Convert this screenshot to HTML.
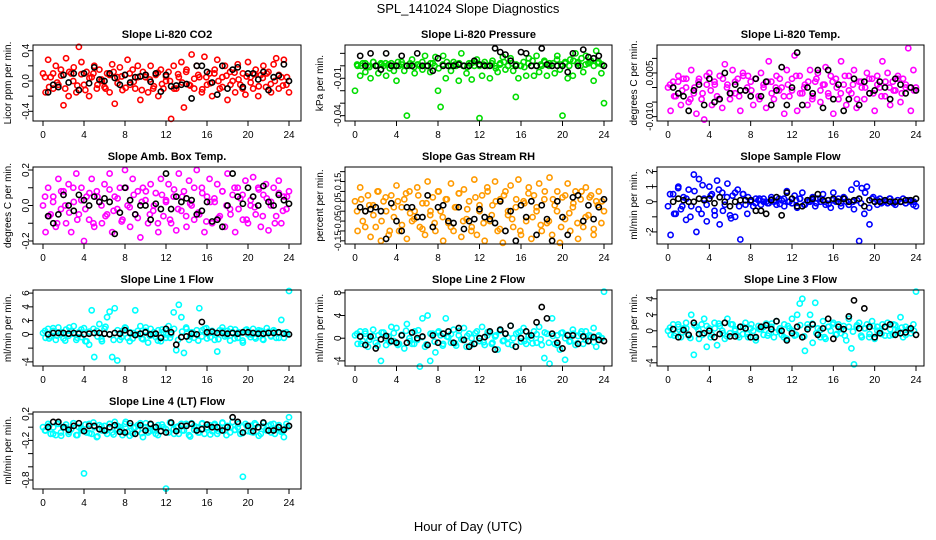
<!DOCTYPE html>
<html><head><meta charset="utf-8"><style>
html,body{margin:0;padding:0;background:#fff;}
svg{display:block;font-family:"Liberation Sans",sans-serif;}
</style></head><body>
<svg id="chart" width="936" height="540" viewBox="0 0 936 540" xmlns="http://www.w3.org/2000/svg">
<rect x="0" y="0" width="936" height="540" fill="#fff"/>
<text x="468" y="13" text-anchor="middle" font-size="13">SPL_141024  Slope Diagnostics</text>
<text x="468" y="531" text-anchor="middle" font-size="13">Hour of Day (UTC)</text>
</svg>
<script>
const xTicks=[0,4,8,12,16,20,24];
const co2=[0.1,-0.15,0.28,0.05,-0.1,0.2,-0.05,0.15,-0.32,0.3,-0.2,0.1,0.18,-0.15,0.45,0.25,-0.05,0.12,-0.2,0.05,0.2,-0.1,0.15,0.0,-0.08,0.1,-0.15,0.22,-0.3,0.05,0.18,-0.12,0.08,0.28,-0.05,0.15,-0.1,0.2,-0.25,0.12,0.05,-0.15,0.2,-0.1,0.08,-0.2,0.15,-0.1,0.0,0.12,-0.5,0.2,-0.1,0.05,0.25,-0.35,0.15,-0.05,0.35,-0.1,0.2,0.05,-0.15,0.32,-0.05,0.1,-0.2,0.15,0.28,-0.1,0.05,0.2,-0.25,0.12,0.0,-0.15,0.22,-0.05,0.1,-0.18,0.25,0.05,-0.1,0.15,-0.2,0.08,0.2,-0.08,0.12,-0.15,0.22,0.3,-0.1,0.05,0.28,-0.05,-0.15];
const co2Core=[0.05,-0.08,0.1,-0.02,0.07,-0.1,0.12,0.0,-0.06,0.09,-0.12,0.04,0.1,-0.05,0.02,-0.1,0.08,0.12,-0.03,0.06,-0.09,0.1,-0.01,0.05,-0.12,0.08,0.02,-0.07,0.11,-0.04,0.06,0.0,-0.1,0.09,-0.02,0.12,-0.06,0.03,0.08,-0.11,0.05,-0.03,0.1,0.0,-0.08,0.07,-0.05,0.11,0.02,-0.1,0.06,-0.02,0.09,-0.07,0.04,0.1,-0.04,0.0,0.08,-0.06,0.05];
const co2Black=[-0.15,-0.05,-0.08,0.08,-0.02,0.1,-0.12,0.1,-0.03,0.18,0.02,0.0,0.1,0.04,-0.05,0.08,-0.02,0.05,0.06,0.08,-0.01,0.1,-0.14,0.08,-0.07,-0.06,-0.05,-0.04,-0.23,0.2,0.2,0.12,-0.02,-0.18,0.2,-0.1,0.15,0.18,-0.08,0.1,0.1,0.02,0.12,-0.12,0.05,0.07,0.22,0.0];
const pres=[-0.02,0.0,-0.008,0.002,-0.005,0.0,-0.01,0.003,0.0,-0.006,0.002,0.0,-0.008,0.001,0.002,-0.004,-0.012,0.0,0.003,-0.004,-0.04,0.0,0.005,-0.006,0.001,0.0,-0.003,0.008,0.0,-0.005,0.002,0.007,-0.02,-0.033,0.008,-0.01,0.0,-0.004,0.003,0.0,-0.012,0.01,0.0,-0.006,0.002,-0.011,0.0,0.005,-0.042,-0.008,0.003,0.0,-0.01,0.004,0.0,-0.005,0.002,0.007,-0.003,0.0,0.006,-0.004,-0.025,-0.01,0.0,0.003,-0.008,0.006,0.0,-0.008,0.008,-0.005,0.0,0.004,-0.008,0.002,0.0,-0.006,0.008,-0.003,-0.04,0.002,-0.01,0.005,-0.008,0.01,0.003,0.0,-0.005,0.008,0.002,0.004,-0.012,0.012,0.003,-0.006,-0.03];
const presCore=[0.001,0.0,0.002,-0.001,0.003,0.0,0.001,0.002,-0.002,0.0,0.003,0.001,0.0,0.002,-0.001,0.001,0.003,0.0,0.002,0.0,-0.002,0.001,0.003,0.0,0.001,0.002,0.0,-0.001,0.002,0.003,0.0,0.001,0.0,0.002,-0.002,0.001,0.003,0.0,0.002,0.001,0.0,-0.001,0.002,0.004,0.0,0.001,0.003,0.0,0.002,0.005,0.001,0.003,0.0,0.004,0.002,0.006,0.001,0.003,0.0,0.002,0.001];
const presBlack=[0.008,0.0,0.01,0.0,-0.003,0.01,0.0,0.0,0.008,0.0,0.0,0.01,0.0,0.0,-0.004,0.006,0.0,0.0,0.0,0.001,0.0,0.0,0.004,0.001,0.0,0.0,0.014,0.011,0.009,0.004,0.0,0.011,0.01,0.0,0.0,0.014,0.001,0.0,0.0,0.0,-0.005,0.01,0.0,0.013,0.007,0.006,0.008,0.0];
const temp=[0.0,-0.008,0.002,-0.003,0.004,-0.006,0.003,0.0,-0.005,0.006,-0.002,-0.009,0.003,-0.004,-0.011,0.001,0.005,-0.006,0.002,-0.003,0.004,-0.007,0.008,0.001,-0.004,0.006,-0.002,0.003,-0.008,0.005,-0.001,0.004,0.002,-0.006,0.003,-0.003,0.005,0.0,-0.007,0.009,0.002,-0.004,0.004,-0.001,0.0,-0.009,0.006,-0.003,0.003,0.011,-0.008,0.004,-0.002,0.001,-0.006,0.006,-0.003,0.002,0.005,-0.005,0.001,0.007,-0.002,0.004,-0.009,0.003,-0.004,0.009,0.001,-0.006,0.004,-0.002,0.006,-0.007,0.002,0.0,-0.004,0.005,-0.002,0.003,-0.008,0.004,0.0,0.009,-0.003,0.005,-0.006,0.002,-0.001,0.004,-0.005,0.003,0.0,0.0135,-0.008,0.006,0.0];
const tempCore=[0.001,-0.003,0.002,-0.001,0.003,-0.004,0.0,0.002,-0.002,0.004,-0.001,0.001,-0.004,0.003,0.0,-0.002,0.002,-0.003,0.004,0.0,-0.001,0.003,-0.004,0.001,0.002,-0.002,0.0,0.003,-0.003,0.001,-0.001,0.004,-0.002,0.0,0.002,-0.004,0.003,-0.001,0.001,-0.003,0.002,0.0,-0.002,0.004,-0.001,0.001,-0.004,0.002,0.0,0.003,-0.002,0.001,-0.003,0.002,0.0,-0.001,0.003,-0.002,0.001,0.0,-0.001];
const tempBlack=[0.0,-0.002,-0.003,-0.008,-0.001,0.001,-0.006,0.003,-0.005,-0.004,0.005,-0.002,0.001,-0.001,-0.001,-0.003,0.003,-0.003,0.002,-0.006,-0.001,0.007,-0.006,0.0,0.012,-0.006,0.0,-0.002,0.006,-0.007,0.006,-0.004,0.001,-0.008,-0.004,0.003,-0.006,0.002,-0.002,-0.001,0.002,0.0,-0.004,0.003,0.001,-0.002,0.0,-0.001];
const amb=[0.0,-0.15,0.1,-0.05,0.05,-0.12,0.15,-0.02,0.08,-0.1,0.12,-0.15,0.02,0.18,-0.05,0.1,-0.2,0.05,-0.08,0.15,-0.12,0.08,0.02,-0.1,0.12,-0.05,0.18,-0.15,0.05,-0.02,0.1,-0.08,0.2,0.0,-0.12,0.15,-0.05,0.08,-0.18,0.1,0.03,-0.1,0.12,-0.03,0.07,-0.15,0.15,-0.06,0.02,0.12,-0.1,0.05,-0.14,0.18,-0.03,0.08,-0.12,0.14,0.0,-0.08,0.2,-0.05,0.1,-0.15,0.05,0.15,-0.1,0.02,0.12,-0.06,0.08,-0.12,0.18,-0.02,0.06,-0.15,0.1,0.04,-0.08,0.14,-0.1,0.0,0.16,-0.05,0.1,-0.12,0.06,0.12,-0.14,0.02,0.1,-0.06,0.14,-0.1,0.05,-0.02,0.08];
const ambCore=[0.05,-0.06,0.02,-0.1,0.08,0.0,-0.04,0.1,-0.08,0.03,-0.02,0.07,-0.1,0.05,0.0,-0.06,0.09,-0.03,0.04,-0.09,0.1,-0.01,0.06,-0.07,0.02,0.08,-0.05,0.0,-0.1,0.06,0.03,-0.08,0.09,-0.02,0.05,-0.06,0.01,0.1,-0.04,0.07,-0.09,0.02,0.04,-0.07,0.08,0.0,-0.05,0.1,-0.02,0.06,-0.08,0.03,-0.01,0.09,-0.06,0.04,0.0,-0.1,0.07,-0.03,0.05];
const ambBlack=[-0.06,-0.1,-0.05,0.06,0.0,-0.03,0.06,0.03,0.0,0.05,0.02,0.04,0.02,-0.16,-0.04,0.1,0.03,-0.05,0.0,0.0,-0.08,0.01,-0.02,0.18,-0.02,0.05,0.02,0.04,0.03,-0.05,-0.03,0.02,-0.09,-0.08,-0.12,0.0,0.18,0.05,0.01,0.1,0.05,0.0,0.11,0.02,0.0,0.06,0.03,0.01];
const rh=[0.05,-0.1,0.12,-0.05,0.0,0.08,-0.13,0.03,-0.08,0.1,-0.15,0.05,0.0,-0.12,0.08,-0.03,0.13,-0.1,0.02,0.06,-0.14,0.1,-0.05,0.0,0.12,-0.08,0.04,-0.12,0.15,-0.02,0.07,-0.1,0.1,0.0,-0.15,0.06,-0.06,0.14,-0.1,0.02,0.09,-0.13,0.11,-0.04,0.05,-0.08,0.16,-0.12,0.0,0.08,-0.15,0.12,-0.05,0.03,0.15,-0.1,0.06,-0.16,0.1,-0.02,0.13,-0.08,0.02,0.16,-0.12,0.05,-0.05,0.12,-0.14,0.08,0.0,0.14,-0.1,0.06,-0.06,0.17,-0.12,0.03,0.1,-0.16,0.07,-0.04,0.14,-0.1,0.02,0.1,-0.14,0.06,-0.08,0.12,-0.02,0.08,-0.12,0.05,0.1,-0.06,0.0];
const rhCore=[0.0,0.06,-0.08,0.03,-0.02,0.1,-0.05,0.07,-0.1,0.02,0.05,-0.07,0.09,-0.01,-0.04,0.08,-0.09,0.04,0.0,-0.06,0.1,-0.03,0.06,-0.08,0.02,0.09,-0.05,0.01,-0.1,0.07,0.03,-0.06,0.1,-0.02,0.05,-0.09,0.08,0.0,-0.04,0.06,-0.1,0.04,0.09,-0.03,0.02,-0.07,0.1,-0.05,0.06,0.0,-0.08,0.08,-0.01,0.04,-0.06,0.1,-0.03,0.07,-0.09,0.03,0.05];
const rhBlack=[0.02,0.0,0.01,0.02,0.0,-0.14,0.04,-0.05,-0.1,0.02,0.02,-0.03,-0.03,0.08,-0.08,0.02,0.03,-0.05,-0.06,0.02,-0.09,-0.05,-0.04,0.01,-0.03,-0.04,-0.06,0.05,-0.1,0.0,-0.15,0.03,-0.03,0.05,-0.12,0.03,-0.04,-0.15,0.05,-0.03,-0.12,0.07,0.08,-0.05,0.03,-0.04,0.02,0.06];
const flow=[-0.3,-2.2,0.5,-0.8,1.0,-0.5,0.3,-1.2,0.8,-0.3,1.8,-2.0,1.5,-0.8,0.2,-1.3,1.0,0.5,-0.6,1.4,-1.5,0.6,-0.2,1.2,-0.9,0.4,-1.0,0.8,-2.5,0.5,-0.2,0.3,0.0,-0.3,0.2,0.1,-0.2,0.2,0.0,-0.1,0.3,0.0,-0.2,0.2,0.1,-0.3,0.7,0.0,-0.1,0.4,-0.4,0.2,0.6,-0.2,0.1,0.0,0.3,-0.3,0.2,0.0,0.5,-0.2,0.1,-0.4,0.6,0.0,0.2,-0.3,0.3,0.0,-0.2,0.8,-0.5,1.2,-2.6,0.9,-0.8,1.0,-1.5,0.2,0.0,-0.2,0.2,0.0,0.1,-0.1,0.2,0.0,-0.2,0.1,0.0,0.2,-0.1,0.1,0.0,-0.2,-0.3];
const flowCore=[0.5,-0.8,0.9,-0.3,0.2,-1.0,0.7,-0.5,1.1,-0.2,0.4,-0.9,0.8,-0.6,0.3,-1.1,0.6,-0.3,0.5,-0.8,0.1,-0.1,0.2,0.0,-0.1,0.15,0.05,-0.15,0.2,0.0,-0.1,0.1,0.2,-0.2,0.0,0.1,-0.1,0.2,0.0,-0.15,0.1,0.05,-0.1,0.2,-0.2,0.0,0.1,-0.1,0.6,-0.4,0.3,0.1,-0.1,0.0,0.2,-0.1,0.1,0.0,-0.1,0.1,0.0];
const flowBlack=[0.0,0.2,0.1,0.0,0.0,0.2,0.1,0.2,-0.1,0.3,0.0,-0.3,0.0,0.1,0.1,0.1,-0.6,-0.6,-0.8,0.1,0.3,-0.9,0.6,0.2,-0.3,-0.3,0.1,0.2,0.5,0.1,0.1,0.2,0.0,0.2,0.0,0.1,0.2,-0.3,0.1,0.0,0.0,0.1,0.0,0.0,0.0,0.1,0.1,0.2];
const line1=[0.2,-0.5,0.8,-0.3,0.5,-0.8,1.0,0.0,-0.6,0.7,-0.2,0.5,1.2,-0.8,0.3,-0.4,0.9,-1.0,-1.5,3.5,-3.3,0.5,1.5,-1.0,0.8,2.5,3.3,-3.3,3.8,-3.8,-0.8,0.5,1.0,-0.5,0.3,-0.6,3.5,0.0,1.2,-0.7,0.5,-1.2,0.8,0.0,-0.4,0.6,-1.0,0.3,-0.5,1.2,0.0,3.2,-2.3,4.3,2.5,-2.7,0.8,-0.8,0.3,-0.5,0.6,3.8,-0.3,0.8,-0.6,0.2,0.5,-0.8,-2.5,0.6,1.0,-0.3,0.5,-0.9,0.3,0.7,-0.5,0.2,-1.2,0.6,0.0,-0.4,0.8,-0.6,0.3,0.5,-0.8,0.2,0.4,-0.3,0.6,-0.5,0.2,2.1,-0.5,0.3,6.3];
const line1Core=[0.5,-0.6,0.9,-0.2,0.3,-0.9,1.0,0.1,-0.5,0.7,-1.0,0.4,0.8,-0.3,-0.7,1.1,0.0,-0.8,0.6,-0.4,0.9,-1.0,0.2,0.5,-0.6,1.0,-0.2,0.3,-0.9,0.7,0.0,-0.5,0.8,-0.8,0.4,1.0,-0.3,0.1,-0.9,0.6,0.9,-0.4,0.2,-0.7,0.5,-0.1,0.8,-0.6,0.3,-0.9,0.7,0.0,-0.4,0.6,-0.7,0.9,-0.2,0.4,-0.5,0.2,0.0];
const line1Black=[0.0,0.2,0.2,0.2,0.1,0.2,0.1,0.0,0.1,0.2,0.2,0.1,0.0,0.2,0.1,0.6,0.2,-0.1,0.1,0.3,0.0,0.1,-0.5,0.8,0.3,-1.5,-0.4,-0.3,0.1,0.0,1.8,0.3,0.4,0.2,0.2,0.1,0.2,0.1,0.3,0.3,0.2,0.1,0.1,0.2,0.2,0.3,0.1,0.0];
const line2=[0.5,-1.0,1.2,-0.5,0.8,-1.5,0.2,1.5,-0.8,0.5,-4.0,1.0,-1.2,0.3,2.0,-0.5,1.8,-1.0,0.6,-1.8,2.5,0.0,-1.0,1.2,-0.3,-5.0,3.5,-1.5,4.0,-4.0,0.8,-2.5,1.0,0.5,-1.0,3.5,0.2,-0.8,1.5,-1.3,0.5,-0.2,1.8,-1.5,0.8,0.0,-1.0,1.2,-0.5,2.0,-1.2,0.5,1.0,-0.8,0.3,-2.0,1.5,-0.5,0.8,-1.0,2.2,0.0,-1.5,1.0,-0.6,1.8,-1.0,0.5,0.0,1.2,-0.8,2.0,-1.2,-3.5,0.8,-4.5,3.5,-1.0,0.5,-2.0,1.0,-3.8,0.6,-0.5,1.5,-1.2,0.4,0.8,-1.0,1.2,-0.5,0.3,1.8,-1.5,0.5,0.0,8.2];
const line2Core=[0.8,-1.0,1.2,-0.3,0.4,-1.3,1.0,0.0,-0.7,0.9,-1.2,0.5,1.3,-0.5,-1.0,1.4,0.2,-1.1,0.8,-0.6,1.2,-1.3,0.3,0.7,-0.9,1.3,-0.3,0.4,-1.2,0.9,0.0,-0.7,1.1,-1.0,0.5,1.3,-0.4,0.1,-1.2,0.8,1.2,-0.5,0.3,-0.9,0.7,-0.2,1.0,-0.8,0.4,-1.2,0.9,0.0,-0.6,0.8,-0.9,1.2,-0.3,0.5,-0.7,0.3,0.0];
const line2Black=[0.3,-1.2,0.3,-1.8,-0.2,0.4,-0.5,-0.8,0.5,-0.8,1.0,0.0,0.3,-1.2,0.5,-0.8,0.8,1.2,-0.8,1.8,-0.3,-1.5,-1.0,0.0,0.2,1.2,-2.0,1.5,0.8,2.2,-1.5,0.0,1.2,0.5,2.8,5.5,3.5,0.8,-0.8,-1.8,0.5,0.5,-1.0,0.3,-0.5,0.2,-0.3,-0.5];
const line3=[0.0,-0.5,0.8,-0.3,0.5,-0.8,0.3,1.0,-0.6,2.0,-3.0,0.5,-1.0,0.8,1.5,-2.0,0.3,-0.5,1.0,-1.8,0.6,0.0,-1.0,1.5,-0.3,0.8,0.2,-0.6,0.5,-0.4,1.0,-0.8,0.3,0.0,-1.2,0.6,0.2,-0.5,0.9,-0.3,0.5,-0.8,1.2,0.0,-0.5,0.8,-1.0,0.3,1.5,-0.6,2.0,3.4,4.0,-2.5,0.8,2.0,-1.5,3.5,0.3,-0.8,1.2,-1.0,0.5,0.0,1.0,-0.5,0.8,-0.3,0.6,-1.2,1.5,-2.2,-4.2,0.5,1.0,-0.8,0.3,0.8,-0.4,1.2,-1.0,0.5,0.0,0.8,-0.6,1.0,0.2,-0.5,0.7,0.0,1.7,-0.8,0.5,0.2,-0.3,0.8,4.9];
const line3Core=[0.4,-0.6,0.8,-0.2,0.3,-0.9,0.7,0.1,-0.5,0.6,-0.8,0.3,0.9,-0.3,-0.7,0.8,0.0,-0.8,0.5,-0.4,0.8,-0.9,0.2,0.5,-0.6,0.9,-0.2,0.3,-0.8,0.6,0.0,-0.5,0.7,-0.7,0.4,0.9,-0.3,0.1,-0.8,0.5,0.8,-0.4,0.2,-0.6,0.5,-0.1,0.7,-0.6,0.3,-0.8,0.6,0.0,-0.4,0.5,-0.6,0.8,-0.2,0.4,-0.5,0.2,0.0];
const line3Black=[0.2,-0.8,0.1,-0.5,1.0,-0.4,-0.3,0.0,-0.8,-0.4,1.0,-0.7,-0.7,0.5,0.3,-0.8,-0.8,0.5,0.7,0.2,1.2,0.0,-1.2,-0.3,0.5,-0.8,0.2,0.8,-0.5,0.3,1.5,-1.0,0.5,0.2,1.8,3.8,0.3,2.8,0.5,-0.8,-0.3,0.5,0.8,-0.5,-0.3,-0.2,0.3,-0.5];
const line4=[0.0,-0.05,0.05,-0.1,0.0,-0.12,0.05,-0.08,0.0,0.04,-0.1,-0.03,0.06,-0.12,0.0,-0.05,-0.7,-0.08,0.05,-0.1,0.0,-0.15,0.03,-0.05,0.02,-0.1,0.05,-0.08,0.08,-0.03,0.0,-0.12,0.05,-0.07,0.02,-0.1,0.0,-0.05,0.06,-0.15,0.0,-0.08,0.04,-0.05,-0.1,0.03,-0.06,0.0,-0.93,-0.08,0.06,-0.03,0.0,-0.1,0.05,-0.05,0.02,-0.12,0.06,-0.04,0.0,-0.08,0.05,-0.1,0.0,0.03,-0.06,0.05,-0.1,0.0,0.06,-0.05,0.02,-0.08,0.08,-0.04,0.0,-0.1,-0.75,0.05,-0.06,0.02,-0.08,0.04,0.0,-0.1,0.06,-0.04,0.02,-0.08,0.05,-0.02,0.0,-0.07,-0.15,0.05,0.15];
const line4Core=[-0.05,0.02,-0.1,0.05,-0.13,0.0,-0.07,0.06,-0.12,-0.02,0.04,-0.09,0.07,-0.14,0.01,-0.06,0.05,-0.11,0.02,-0.04,0.08,-0.13,-0.01,0.03,-0.09,0.06,-0.06,0.0,-0.12,0.04,-0.03,0.07,-0.1,0.01,-0.05,0.05,-0.14,0.02,-0.08,0.06,-0.02,-0.11,0.03,-0.06,0.07,-0.12,0.0,-0.04,0.05,-0.09,0.02,-0.07,0.06,-0.13,0.01,-0.05,0.04,-0.1,0.03,-0.06,0.0];
const line4Black=[0.0,0.08,0.08,0.0,-0.04,0.02,0.06,-0.06,0.02,0.02,-0.03,-0.05,0.0,0.03,-0.07,-0.08,0.06,-0.1,0.03,-0.05,0.05,0.0,-0.06,-0.08,0.07,-0.06,0.02,0.02,0.05,-0.05,-0.03,0.04,0.0,0.0,-0.05,0.0,0.15,0.08,-0.08,0.02,-0.06,0.0,0.07,-0.05,-0.05,0.0,-0.04,0.02];

const co2Ticks=[-0.4,-0.2,0,0.2,0.4], co2Labels=["-0.4","","0.0","","0.4"];
const presTicks=[-0.04,-0.03,-0.02,-0.01,0,0.01], presLabels=["-0.04","","","-0.01","",""];
const tempTicks=[-0.01,-0.005,0,0.005,0.01], tempLabels=["-0.010","","","0.005",""];
const ambTicks=[-0.2,-0.1,0,0.1,0.2], ambLabels=["-0.2","","0.0","","0.2"];
const rhTicks=[-0.15,-0.1,-0.05,0,0.05,0.1,0.15,0.2], rhLabels=["-0.15","","-0.05","","0.05","","0.15",""];
const flowTicks=[-2,-1,0,1,2], flowLabels=["-2","","0","1","2"];
const l1Ticks=[-4,-2,0,2,4,6], l1Labels=["-4","","0","2","4","6"];
const l2Ticks=[-4,0,4,8], l2Labels=["-4","0","4","8"];
const l3Ticks=[-4,-2,0,2,4], l3Labels=["-4","","0","2","4"];
const l4Ticks=[-0.8,-0.6,-0.4,-0.2,0,0.2], l4Labels=["-0.8","","","-0.2","","0.2"];

const cols=[{l:33,r:301,x0:43,x24:289,yl:11},{l:345,r:612,x0:355,x24:604,yl:323},{l:657,r:924,x0:668,x24:916,yl:637}];
const rows=[{t:45,b:121},{t:167,b:244},{t:290,b:366},{t:412,b:489}];
const panels=[
 {name:"co2",title:"Slope Li-820 CO2",ylab:"Licor ppm per min.",c:0,r:0,ymin:-0.528,ymax:0.475,col:"#ff0000",data:co2,core:co2Core,blk:co2Black,ticks:co2Ticks,labels:co2Labels},
 {name:"pressure",title:"Slope Li-820 Pressure",ylab:"kPa per min.",c:1,r:0,ymin:-0.0443,ymax:0.0167,col:"#00dd00",data:pres,core:presCore,blk:presBlack,ticks:presTicks,labels:presLabels},
 {name:"temp",title:"Slope Li-820 Temp.",ylab:"degrees C per min.",c:2,r:0,ymin:-0.0115,ymax:0.0146,col:"#ff00ff",data:temp,core:tempCore,blk:tempBlack,ticks:tempTicks,labels:tempLabels},
 {name:"amb-box-temp",title:"Slope Amb. Box Temp.",ylab:"degrees C per min.",c:0,r:1,ymin:-0.217,ymax:0.217,col:"#ff00ff",data:amb,core:ambCore,blk:ambBlack,ticks:ambTicks,labels:ambLabels},
 {name:"gas-stream-rh",title:"Slope Gas Stream RH",ylab:"percent per min.",c:1,r:1,ymin:-0.166,ymax:0.2235,col:"#ff9a00",data:rh,core:rhCore,blk:rhBlack,ticks:rhTicks,labels:rhLabels},
 {name:"sample-flow",title:"Slope Sample Flow",ylab:"ml/min per min.",c:2,r:1,ymin:-2.8,ymax:2.3,col:"#0000ff",data:flow,core:flowCore,blk:flowBlack,ticks:flowTicks,labels:flowLabels},
 {name:"line1-flow",title:"Slope Line 1 Flow",ylab:"ml/min per min.",c:0,r:2,ymin:-4.6,ymax:6.45,col:"#00ffff",data:line1,core:line1Core,blk:line1Black,ticks:l1Ticks,labels:l1Labels},
 {name:"line2-flow",title:"Slope Line 2 Flow",ylab:"ml/min per min.",c:1,r:2,ymin:-4.9,ymax:8.5,col:"#00ffff",data:line2,core:line2Core,blk:line2Black,ticks:l2Ticks,labels:l2Labels},
 {name:"line3-flow",title:"Slope Line 3 Flow",ylab:"ml/min per min.",c:2,r:2,ymin:-4.4,ymax:5.1,col:"#00ffff",data:line3,core:line3Core,blk:line3Black,ticks:l3Ticks,labels:l3Labels},
 {name:"line4-flow",title:"Slope Line 4 (LT) Flow",ylab:"ml/min per min.",c:0,r:3,ymin:-0.936,ymax:0.23,col:"#00ffff",data:line4,core:line4Core,blk:line4Black,ticks:l4Ticks,labels:l4Labels}
];
const NS="http://www.w3.org/2000/svg";
const svg=document.getElementById('chart');
function mk(tag,attrs,parent){const e=document.createElementNS(NS,tag);for(const k in attrs)e.setAttribute(k,attrs[k]);parent.appendChild(e);return e;}
panels.forEach(p=>{
 const C=cols[p.c],R=rows[p.r];
 const g=mk('g',{},svg);
 
 
 const sx=h=>C.x0+(C.x24-C.x0)*h/24;
 const sy=v=>R.b-(v-p.ymin)/(p.ymax-p.ymin)*(R.b-R.t);
 const t=mk('text',{x:(C.l+C.r)/2,y:R.t-7,'text-anchor':'middle','font-size':11,'font-weight':'bold'},g);
 t.textContent=p.title;
 
 
 const cy=(R.t+R.b)/2;
 const yl=mk('text',{x:C.yl,y:cy,'text-anchor':'middle','font-size':10,transform:`rotate(-90 ${C.yl} ${cy})`},g);
 yl.textContent=p.ylab;
 
 
 const n=p.data.length;
 p.data.forEach((v,i)=>{
  const c=mk('circle',{cx:sx(i*24/(n-1)),cy:sy(v),r:2.6,fill:'none',stroke:p.col,'stroke-width':1.6},g);
  
  
 });
 const k=p.core.length;
 p.core.forEach((v,i)=>{
  const c=mk('circle',{cx:sx(0.2+i*23.6/(k-1)),cy:sy(v),r:2.6,fill:'none',stroke:p.col,'stroke-width':1.6},g);
  
  
 });
 const m=p.blk.length;
 p.blk.forEach((v,i)=>{
  const c=mk('circle',{cx:sx(0.5+i*23.5/(m-1)),cy:sy(v),r:2.6,fill:'none',stroke:'#000','stroke-width':1.6},g);
  
  
 });
 const box=mk('rect',{x:C.l,y:R.t,width:C.r-C.l,height:R.b-R.t,fill:'none',stroke:'#000','stroke-width':1},g);
 
 
 const xa=mk('line',{x1:sx(0),x2:sx(24),y1:R.b,y2:R.b,stroke:'#000'},g);
 
 
 xTicks.forEach(h=>{
  mk('line',{x1:sx(h),x2:sx(h),y1:R.b,y2:R.b+5,stroke:'#000'},g);
  const tl=mk('text',{x:sx(h),y:R.b+17,'text-anchor':'middle','font-size':10},g);
  tl.textContent=h;
  
  
 });
 p.ticks.forEach((v,i)=>{
  const y=sy(v);
  mk('line',{x1:C.l-5,x2:C.l,y1:y,y2:y,stroke:'#000'},g);
  if(p.labels[i]){
   const tx=C.l-4;
   const tl=mk('text',{x:tx,y:y,'text-anchor':'middle','font-size':p.name==='gas-stream-rh'?9:10,transform:`rotate(-90 ${tx} ${y})`},g);
   tl.textContent=p.labels[i];
   
   
  }
 });
});
</script>
</body></html>
